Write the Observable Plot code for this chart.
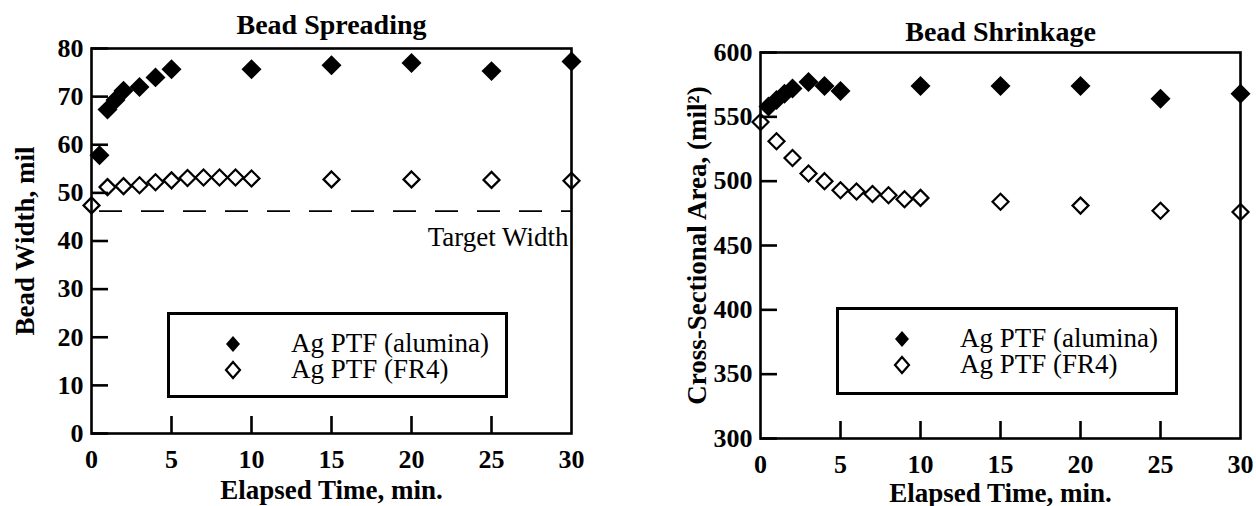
<!DOCTYPE html>
<html>
<head>
<meta charset="utf-8">
<script src="https://cdn.jsdelivr.net/npm/d3@7"></script>
<script src="https://cdn.jsdelivr.net/npm/@observablehq/plot@0.6"></script>
</head>
<body style="margin:0;background:#fff">
<div id="wrap" style="position:relative;width:1256px;height:506px;display:flex"></div>
<script>
// ---------- data ----------
const xTickLabels = [0, 5, 10, 15, 20, 25, 30];
const xInnerTicks = [5, 10, 15, 20, 25];

// Bead Spreading (Bead Width, mil)
const spreadAluminaT = [0.5, 1, 1.5, 2, 3, 4, 5, 10, 15, 20, 25, 30];
const spreadAluminaW = [57.8, 67.3, 69.3, 71.2, 72, 74, 75.7, 75.7, 76.5, 77, 75.3, 77.3];
const spreadFR4T = [0, 1, 2, 3, 4, 5, 6, 7, 8, 9, 10, 15, 20, 25, 30];
const spreadFR4W = [47.4, 51.2, 51.4, 51.6, 52.2, 52.6, 53.1, 53.2, 53.2, 53.2, 53, 52.8, 52.8, 52.7, 52.5];
const targetWidth = 46.2;
const spreadYTicks = [0, 10, 20, 30, 40, 50, 60, 70, 80];

// Bead Shrinkage (Cross-Sectional Area, mil^2)
const shrinkAluminaT = [0.5, 1, 1.5, 2, 3, 4, 5, 10, 15, 20, 25, 30];
const shrinkAluminaA = [558, 563, 568, 572, 577, 574, 570, 574, 574, 574, 564, 568];
const shrinkFR4T = [0, 1, 2, 3, 4, 5, 6, 7, 8, 9, 10, 15, 20, 25, 30];
const shrinkFR4A = [546, 531, 518, 506, 500, 493, 492, 490, 489, 486, 487, 484, 481, 477, 476];
const shrinkYTicks = [300, 350, 400, 450, 500, 550, 600];

const seriesNames = ["Ag PTF (alumina)", "Ag PTF (FR4)"];

// ---------- helpers ----------
const FONT = '"Liberation Serif", "Times New Roman", serif';
const toPts = (ts, vs) => ts.map((t, i) => ({t, v: vs[i]}));
const W = 628, H = 506;

function mainChart(o) {
  return Plot.plot({
    width: W, height: H,
    marginLeft: o.ml, marginRight: o.mr, marginTop: o.mt, marginBottom: o.mb,
    style: {fontFamily: FONT, background: "white", color: "black", overflow: "visible"},
    x: {domain: [0, 30]},
    y: {domain: o.yDomain},
    marks: [
      Plot.frame({stroke: "black", strokeWidth: 2.6}),
      Plot.axisX({ticks: xTickLabels, tickSize: 0, tickPadding: 16, fontSize: 26, fontWeight: "bold", fill: "black", label: null, tickFormat: v => String(v)}),
      Plot.axisY({ticks: o.yTicks, tickSize: 0, tickPadding: 8, fontSize: 26, fontWeight: "bold", fill: "black", label: null, tickFormat: v => String(v)}),
      Plot.text([o.title], {text: v => v, frameAnchor: "top", lineAnchor: "middle", textAnchor: "middle", dy: o.titleDy, fontSize: 28, fontWeight: "bold", fill: "black"}),
      Plot.text([o.xlabel], {text: v => v, frameAnchor: "bottom", lineAnchor: "middle", textAnchor: "middle", dy: o.xlabDy, fontSize: 27, fontWeight: "bold", fill: "black"}),
      Plot.text([o.ylabel], {text: v => v, frameAnchor: "left", lineAnchor: "middle", textAnchor: "middle", dx: o.ylabDx, rotate: -90, fontSize: 27, fontWeight: "bold", fill: "black"}),
      ...(o.extra || []),
      Plot.dot(o.filled, {x: "t", y: "v", symbol: "diamond2", r: 9, fill: "black", stroke: "none"}),
      Plot.dot(o.open, {x: "t", y: "v", symbol: "diamond2", r: 7.2, fill: "none", stroke: "black", strokeWidth: 2.2})
    ]
  });
}

// separate overlay plot (same scales) carrying only the inward ticks
function tickOverlay(o) {
  const fw = W - o.ml - o.mr, fh = H - o.mt - o.mb;
  const d = o.yDomain;
  const TL = 17;
  const xTickLen = TL * 30 / fw, yTickLen = TL * (d[1] - d[0]) / fh;
  return Plot.plot({
    width: W, height: H,
    marginLeft: o.ml, marginRight: o.mr, marginTop: o.mt, marginBottom: o.mb,
    style: {background: "transparent", color: "black", overflow: "visible"},
    x: {domain: [0, 30], axis: null},
    y: {domain: d, axis: null},
    marks: [
      Plot.ruleY(o.yTicks, {y: v => v, x1: 0, x2: xTickLen, stroke: "black", strokeWidth: 2.6}),
      Plot.ruleX(xInnerTicks, {x: v => v, y1: d[0], y2: d[0] + yTickLen, stroke: "black", strokeWidth: 2.6})
    ]
  });
}

const specs = [
  {
    title: "Bead Spreading", xlabel: "Elapsed Time, min.", ylabel: "Bead Width, mil",
    yDomain: [0, 80], yTicks: spreadYTicks,
    ml: 91, mr: 57, mt: 48, mb: 73, titleDy: -23, xlabDy: 57, ylabDx: -66,
    filled: toPts(spreadAluminaT, spreadAluminaW),
    open: toPts(spreadFR4T, spreadFR4W),
    extra: [
      Plot.ruleY([targetWidth], {stroke: "black", strokeDasharray: "23,19", strokeWidth: 1.6, strokeDashoffset: -8}),
      Plot.text([targetWidth], {y: v => v, text: () => "Target Width", frameAnchor: "right", textAnchor: "end", lineAnchor: "middle", dx: -3, dy: 26, fontSize: 27, fill: "black"})
    ]
  },
  {
    title: "Bead Shrinkage", xlabel: "Elapsed Time, min.", ylabel: "Cross-Sectional Area, (mil²)",
    yDomain: [300, 600], yTicks: shrinkYTicks,
    ml: 132, mr: 16, mt: 52, mb: 68, titleDy: -20, xlabDy: 55, ylabDx: -63,
    filled: toPts(shrinkAluminaT, shrinkAluminaA),
    open: toPts(shrinkFR4T, shrinkFR4A)
  }
];

const wrap = document.getElementById("wrap");
for (const s of specs) {
  const cell = document.createElement("div");
  Object.assign(cell.style, {position: "relative", width: W + "px", height: H + "px"});
  const m = mainChart(s);
  m.style.display = "block";
  cell.appendChild(m);
  const t = tickOverlay(s);
  Object.assign(t.style, {position: "absolute", left: "0px", top: "0px", display: "block"});
  cell.appendChild(t);
  wrap.appendChild(cell);
}

function legend(x, y, w, h) {
  const div = document.createElement("div");
  Object.assign(div.style, {
    position: "absolute", left: x + "px", top: y + "px", width: w + "px", height: h + "px",
    border: "3px solid #000", boxSizing: "border-box",
    fontFamily: FONT, fontSize: "27px", color: "#000"
  });
  seriesNames.forEach((name, i) => {
    const cy = 29 + i * 26;
    const mk = document.createElementNS("http://www.w3.org/2000/svg", "svg");
    mk.setAttribute("width", 18); mk.setAttribute("height", 20);
    Object.assign(mk.style, {position: "absolute", left: (63 - 9) + "px", top: (cy - 10) + "px"});
    const p = document.createElementNS("http://www.w3.org/2000/svg", "path");
    p.setAttribute("d", "M9,2L16,10L9,18L2,10Z");
    if (i === 0) { p.setAttribute("fill", "black"); }
    else { p.setAttribute("fill", "none"); p.setAttribute("stroke", "black"); p.setAttribute("stroke-width", "2.2"); }
    mk.appendChild(p);
    div.appendChild(mk);
    const row = document.createElement("div");
    Object.assign(row.style, {position: "absolute", left: "121px", top: (cy - 14) + "px", height: "26px", lineHeight: "26px", whiteSpace: "nowrap"});
    row.textContent = name;
    div.appendChild(row);
  });
  wrap.appendChild(div);
}
legend(167, 312, 341, 86);
legend(836, 307, 342, 88);
</script>
</body>
</html>
